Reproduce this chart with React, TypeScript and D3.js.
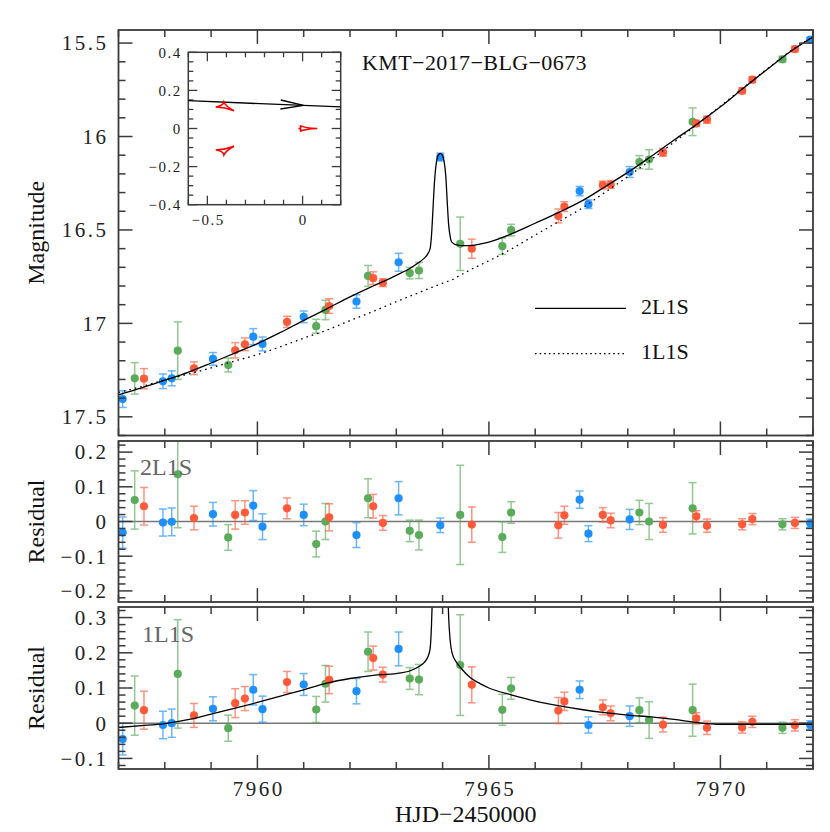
import React from 'react';
import * as d3 from 'd3';

// ---------- data ----------
const obsSite = ['B','G','R','B','B','G','R','B','G','R','R','B','B','R','B','G','G','R','B','G','R','R','B','G','G','B','G','R','G','G','R','R','B','B','R','R','B','G','G','R','G','R','R','R','R','G','R','B'];
const obsTime = [7957.09,7957.35,7957.55,7957.96,7958.15,7958.28,7958.63,7959.04,7959.37,7959.52,7959.73,7959.91,7960.11,7960.64,7961.0,7961.27,7961.47,7961.55,7962.14,7962.39,7962.5,7962.71,7963.05,7963.29,7963.49,7963.95,7964.38,7964.63,7965.29,7965.48,7966.5,7966.63,7966.96,7967.15,7967.46,7967.63,7968.04,7968.25,7968.46,7968.76,7969.40,7969.48,7969.71,7970.47,7970.69,7971.34,7971.61,7971.94];
const obsMag = [17.405,17.294,17.296,17.31,17.294,17.146,17.24,17.19,17.223,17.144,17.112,17.071,17.11,16.992,16.965,17.015,16.928,16.907,16.883,16.746,16.758,16.782,16.673,16.731,16.717,16.11,16.574,16.6,16.587,16.501,16.425,16.375,16.292,16.362,16.26,16.257,16.19,16.137,16.123,16.085,15.921,15.93,15.91,15.755,15.696,15.587,15.532,15.482];
const obsErr = [0.045,0.084,0.054,0.039,0.04,0.154,0.034,0.034,0.037,0.041,0.034,0.043,0.037,0.03,0.031,0.037,0.052,0.039,0.036,0.056,0.034,0.021,0.048,0.031,0.043,0.021,0.143,0.051,0.044,0.031,0.037,0.026,0.025,0.023,0.021,0.021,0.029,0.035,0.052,0.021,0.074,0.016,0.019,0.016,0.016,0.016,0.016,0.012];
const obsRes2L1S = [-0.032,0.062,0.044,-0.003,-0.001,0.136,0.01,0.021,-0.046,0.019,0.026,0.046,-0.015,0.038,0.019,-0.065,0.0,0.012,-0.039,0.067,0.044,-0.004,0.067,-0.027,-0.039,-0.011,0.019,-0.009,-0.045,0.026,-0.011,0.018,0.063,-0.035,0.019,0.003,0.006,0.026,0.0,-0.01,0.038,0.015,-0.012,-0.008,0.007,-0.008,-0.004,-0.005];
const obsRes1L1S = [-0.045,0.05,0.037,-0.005,0.0,0.14,0.022,0.041,-0.014,0.057,0.07,0.095,0.04,0.117,0.11,0.039,0.112,0.123,0.091,0.203,0.185,0.138,0.211,0.127,0.124,0.68,0.165,0.109,0.038,0.099,0.036,0.062,0.095,-0.005,0.045,0.028,0.02,0.037,0.009,-0.004,0.037,0.014,-0.013,-0.012,0.004,-0.013,-0.006,-0.005];

const modelTime = [7957.0,7957.5,7958.0,7958.5,7959.0,7959.5,7960.0,7960.5,7961.0,7961.5,7962.0,7962.5,7963.0,7963.3,7963.5,7963.6,7963.68,7963.73,7963.76,7963.79,7963.82,7963.85,7963.88,7963.92,7963.95,7963.99,7964.03,7964.07,7964.10,7964.13,7964.16,7964.20,7964.3,7964.4,7964.6,7964.8,7965.0,7965.5,7966.0,7966.5,7967.0,7967.5,7968.0,7968.5,7969.0,7969.5,7970.0,7970.5,7971.0,7971.5,7972.0];
const model2L1S = [17.382,17.345,17.304,17.262,17.212,17.160,17.108,17.048,16.984,16.922,16.858,16.800,16.743,16.705,16.672,16.652,16.628,16.600,16.530,16.400,16.260,16.170,16.118,16.095,16.090,16.098,16.130,16.215,16.350,16.470,16.530,16.565,16.580,16.584,16.584,16.576,16.565,16.520,16.464,16.407,16.346,16.270,16.192,16.107,16.019,15.933,15.841,15.741,15.643,15.548,15.468];
const model1L1S = [17.370,17.338,17.303,17.272,17.238,17.202,17.167,17.125,17.079,17.036,16.985,16.936,16.884,16.854,16.834,16.824,16.816,16.811,16.808,16.805,16.802,16.800,16.797,16.793,16.790,16.786,16.783,16.779,16.776,16.773,16.770,16.767,16.753,16.740,16.713,16.689,16.665,16.600,16.527,16.457,16.385,16.300,16.215,16.125,16.030,15.935,15.838,15.738,15.640,15.545,15.465];

const magTicks = [15.5, 16, 16.5, 17, 17.5];
const magTickLabels = ['15.5', '16', '16.5', '17', '17.5'];
const res2Ticks = [0.2, 0.1, 0, -0.1, -0.2];
const res2TickLabels = ['0.2', '0.1', '0', '\u22120.1', '\u22120.2'];
const res1Ticks = [0.3, 0.2, 0.1, 0, -0.1];
const res1TickLabels = ['0.3', '0.2', '0.1', '0', '\u22120.1'];
const timeTicks = [7960, 7965, 7970];
const timeTickLabels = ['7960', '7965', '7970'];

const insetXTicks = [-0.5, 0];
const insetXTickLabels = ['\u22120.5', '0'];
const insetYTicks = [0.4, 0.2, 0, -0.2, -0.4];
const insetYTickLabels = ['0.4', '0.2', '0', '\u22120.2', '\u22120.4'];
const trajX = [-0.6, 0.2];
const trajY = [0.146, 0.113];
const arrowTipX = 0.005;
const causticUpper = [[-0.456, 0.113], [-0.413, 0.139], [-0.36, 0.093]];
const causticLower = [[-0.456, -0.113], [-0.413, -0.139], [-0.36, -0.093]];
const causticCentral = [[-0.021, 0], [-0.014, 0.015], [0.077, 0], [-0.014, -0.015]];

const siteColor: Record<string, string> = { B: '#1e8fff', R: '#ff5a3a', G: '#5aab5a' };

// ---------- layout ----------
const W = 830, H = 832;
const XL = 118.5, XR = 813;
const P1 = { top: 30, bottom: 435.5 };
const P2 = { top: 441, bottom: 602 };
const P3 = { top: 607, bottom: 769 };
const FRAME = '#3a3a3a';
const SERIF = '"Liberation Serif", "Times New Roman", serif';

const x = d3.scaleLinear().domain([7957, 7972]).range([XL, XR]);
const yMag = d3.scaleLinear().domain([15.43, 17.6]).range([P1.top, P1.bottom]);
const yR2 = d3.scaleLinear().domain([-0.232, 0.232]).range([P2.bottom, P2.top]);
const yR1 = d3.scaleLinear().domain([-0.13, 0.33]).range([P3.bottom, P3.top]);

const ix = d3.scaleLinear().domain([-0.6, 0.2]).range([188.3, 340.7]);
const iy = d3.scaleLinear().domain([-0.4, 0.4]).range([204.7, 52.3]);

const near = (a: number, b: number) => Math.abs(a - b) < 1e-6;

function Frame({ top, bottom, yScale, minorStep, majorStep, yMin, yMax }: any) {
  const els: any[] = [];
  for (let t = 7957; t <= 7972; t += 1) {
    const major = t % 5 === 0;
    const L = major ? 14 : 7;
    const xx = x(t);
    els.push(<line key={'xb' + t} x1={xx} x2={xx} y1={bottom} y2={bottom - L} />);
    els.push(<line key={'xt' + t} x1={xx} x2={xx} y1={top} y2={top + L} />);
  }
  const n = Math.round((yMax - yMin) / minorStep);
  for (let i = 0; i <= n; i++) {
    const v = yMin + i * minorStep;
    const r = v / majorStep;
    const major = Math.abs(r - Math.round(r)) < 1e-6;
    const L = major ? 14 : 7;
    const yy = yScale(v);
    if (yy < top - 0.5 || yy > bottom + 0.5) continue;
    els.push(<line key={'yl' + i} x1={XL} x2={XL + L} y1={yy} y2={yy} />);
    els.push(<line key={'yr' + i} x1={XR} x2={XR - L} y1={yy} y2={yy} />);
  }
  return (
    <g stroke={FRAME} strokeWidth={1.5} fill="none">
      {els}
      <rect x={XL} y={top} width={XR - XL} height={bottom - top} strokeWidth={1.8} />
    </g>
  );
}

function Points({ yScale, values, clipId, inverted }: any) {
  const s = inverted ? 1 : -1;
  return (
    <g clipPath={`url(#${clipId})`}>
      {obsTime.map((t, i) => {
        const c = siteColor[obsSite[i]];
        const xx = x(t);
        const y0 = yScale(values[i]);
        const yTop = yScale(values[i] + s * -obsErr[i]);
        const yBot = yScale(values[i] - s * -obsErr[i]);
        return (
          <g key={i}>
            <g stroke={c} strokeWidth={1.5} opacity={0.65}>
              <line x1={xx} x2={xx} y1={yTop} y2={yBot} />
              <line x1={xx - 4} x2={xx + 4} y1={yTop} y2={yTop} />
              <line x1={xx - 4} x2={xx + 4} y1={yBot} y2={yBot} />
            </g>
            <circle cx={xx} cy={y0} r={4.1} fill={c} />
          </g>
        );
      })}
    </g>
  );
}

function causticPath(cusps: number[][]) {
  const cx = d3.mean(cusps, (p) => p[0]) as number;
  const cy = d3.mean(cusps, (p) => p[1]) as number;
  const p = d3.path();
  cusps.forEach((a, i) => {
    const b = cusps[(i + 1) % cusps.length];
    const mx = (a[0] + b[0]) / 2, my = (a[1] + b[1]) / 2;
    const qx = mx + (cx - mx) * 0.7, qy = my + (cy - my) * 0.7;
    if (i === 0) p.moveTo(ix(a[0]), iy(a[1]));
    p.quadraticCurveTo(ix(qx), iy(qy), ix(b[0]), iy(b[1]));
  });
  p.closePath();
  return p.toString();
}

function Inset() {
  const els: any[] = [];
  const top = iy(0.4), bot = iy(-0.4), lft = ix(-0.6), rgt = ix(0.2);
  for (let i = 0; i <= 8; i++) {
    const v = -0.6 + i * 0.1;
    const major = near(v, -0.5) || near(v, 0);
    const L = major ? 9 : 5;
    const xx = ix(v);
    els.push(<line key={'ixb' + i} x1={xx} x2={xx} y1={bot} y2={bot - L} />);
    els.push(<line key={'ixt' + i} x1={xx} x2={xx} y1={top} y2={top + L} />);
  }
  for (let i = 0; i <= 16; i++) {
    const v = -0.4 + i * 0.05;
    const r = v / 0.2;
    const major = Math.abs(r - Math.round(r)) < 1e-6;
    const L = major ? 9 : 5;
    const yy = iy(v);
    els.push(<line key={'iyl' + i} x1={lft} x2={lft + L} y1={yy} y2={yy} />);
    els.push(<line key={'iyr' + i} x1={rgt} x2={rgt - L} y1={yy} y2={yy} />);
  }
  const slope = (trajY[1] - trajY[0]) / (trajX[1] - trajX[0]);
  const tipY = trajY[0] + slope * (arrowTipX - trajX[0]);
  const tx = ix(arrowTipX), ty = iy(tipY);
  const ang = Math.atan2(iy(trajY[1]) - iy(trajY[0]), ix(trajX[1]) - ix(trajX[0]));
  const al = 23, aw = 4.5;
  const bx = tx - al * Math.cos(ang), by = ty - al * Math.sin(ang);
  const px = -Math.sin(ang) * aw, py = Math.cos(ang) * aw;
  return (
    <g>
      <rect x={lft} y={top} width={rgt - lft} height={bot - top} fill="white" stroke={FRAME} strokeWidth={1.5} />
      <g stroke={FRAME} strokeWidth={1.3}>{els}</g>
      <line x1={ix(trajX[0])} y1={iy(trajY[0])} x2={ix(trajX[1])} y2={iy(trajY[1])} stroke="#000" strokeWidth={1.3} />
      <path d={`M${bx + px},${by + py}L${tx},${ty}L${bx - px},${by - py}`} fill="none" stroke="#000" strokeWidth={1.3} />
      {[causticUpper, causticLower, causticCentral].map((c, i) => (
        <path key={i} d={causticPath(c)} fill="none" stroke="#ff0000" strokeWidth={1.5} strokeLinejoin="miter" />
      ))}
      <g fontFamily={SERIF} fontSize={15} fill="#222" letterSpacing={1.5}>
        {insetYTicks.map((v, i) => (
          <text key={i} x={lft - 8 + 1.5} y={iy(v)} dy="0.35em" textAnchor="end">{insetYTickLabels[i]}</text>
        ))}
        {insetXTicks.map((v, i) => (
          <text key={i} x={ix(v) + 0.75} y={225} textAnchor="middle">{insetXTickLabels[i]}</text>
        ))}
      </g>
    </g>
  );
}

export default function App() {
  const line2 = d3.line<number>().x((_, i) => x(modelTime[i])).y((v) => yMag(v)).curve(d3.curveMonotoneX);
  const resCurve = modelTime.map((_, i) => model1L1S[i] - model2L1S[i]);
  const lineRes = d3.line<number>().x((_, i) => x(modelTime[i])).y((v) => yR1(v)).curve(d3.curveMonotoneX);

  const tickText = { fontFamily: SERIF, fontSize: 21, fill: '#222', letterSpacing: 2.5 } as any;

  return (
    <svg width={W} height={H} style={{ position: 'absolute', left: 0, top: 0, background: 'white' }}>
      <defs>
        <clipPath id="c1"><rect x={XL} y={P1.top} width={XR - XL} height={P1.bottom - P1.top} /></clipPath>
        <clipPath id="c2"><rect x={XL} y={P2.top} width={XR - XL} height={P2.bottom - P2.top} /></clipPath>
        <clipPath id="c3"><rect x={XL} y={P3.top} width={XR - XL} height={P3.bottom - P3.top} /></clipPath>
      </defs>
      <rect x={0} y={0} width={W} height={H} fill="white" />

      {/* Panel 1 */}
      <Points yScale={yMag} values={obsMag} clipId="c1" inverted={true} />
      <g clipPath="url(#c1)" fill="none" stroke="#000" strokeWidth={1.3}>
        <path d={line2(model1L1S) || ''} strokeDasharray="1.6,4" />
        <path d={line2(model2L1S) || ''} />
      </g>
      <Frame top={P1.top} bottom={P1.bottom} yScale={yMag} minorStep={0.1} majorStep={0.5} yMin={15.4} yMax={17.6} />
      <Inset />
      <text x={362} y={70} fontFamily={SERIF} fontSize={22} letterSpacing={0.4} fill="#111">KMT{'\u2212'}2017{'\u2212'}BLG{'\u2212'}0673</text>
      <line x1={535} x2={626} y1={308.3} y2={308.3} stroke="#000" strokeWidth={1.3} />
      <line x1={535} x2={626} y1={353.7} y2={353.7} stroke="#000" strokeWidth={1.3} strokeDasharray="1.6,3" />
      <text x={641} y={313.5} fontFamily={SERIF} fontSize={22} fill="#111">2L1S</text>
      <text x={641} y={358.5} fontFamily={SERIF} fontSize={22} fill="#111">1L1S</text>
      {magTicks.map((v, i) => (
        <text key={i} x={106 + 2.5} y={yMag(v)} dy="0.35em" textAnchor="end" {...tickText}>{magTickLabels[i]}</text>
      ))}
      <text transform={`translate(44,${(P1.top + P1.bottom) / 2}) rotate(-90)`} textAnchor="middle" fontFamily={SERIF} fontSize={24} fill="#111">Magnitude</text>

      {/* Panel 2 */}
      <line x1={XL} x2={XR} y1={yR2(0)} y2={yR2(0)} stroke="#777" strokeWidth={1.5} />
      <Points yScale={yR2} values={obsRes2L1S} clipId="c2" />
      <Frame top={P2.top} bottom={P2.bottom} yScale={yR2} minorStep={0.02} majorStep={0.1} yMin={-0.24} yMax={0.24} />
      <text x={140} y={475} fontFamily={SERIF} fontSize={24} fill="#666">2L1S</text>
      {res2Ticks.map((v, i) => (
        <text key={i} x={106 + 2.5} y={yR2(v)} dy="0.35em" textAnchor="end" {...tickText}>{res2TickLabels[i]}</text>
      ))}
      <text transform={`translate(44,${(P2.top + P2.bottom) / 2}) rotate(-90)`} textAnchor="middle" fontFamily={SERIF} fontSize={24} fill="#111">Residual</text>

      {/* Panel 3 */}
      <line x1={XL} x2={XR} y1={yR1(0)} y2={yR1(0)} stroke="#777" strokeWidth={1.5} />
      <Points yScale={yR1} values={obsRes1L1S} clipId="c3" />
      <g clipPath="url(#c3)">
        <path d={lineRes(resCurve) || ''} fill="none" stroke="#000" strokeWidth={1.3} />
      </g>
      <Frame top={P3.top} bottom={P3.bottom} yScale={yR1} minorStep={0.02} majorStep={0.1} yMin={-0.14} yMax={0.34} />
      <text x={142} y={641.7} fontFamily={SERIF} fontSize={24} fill="#666">1L1S</text>
      {res1Ticks.map((v, i) => (
        <text key={i} x={106 + 2.5} y={yR1(v)} dy="0.35em" textAnchor="end" {...tickText}>{res1TickLabels[i]}</text>
      ))}
      <text transform={`translate(44,${(P3.top + P3.bottom) / 2}) rotate(-90)`} textAnchor="middle" fontFamily={SERIF} fontSize={24} fill="#111">Residual</text>

      {/* x axis */}
      {timeTicks.map((v, i) => (
        <text key={i} x={x(v) + 1.25} y={796} textAnchor="middle" {...tickText}>{timeTickLabels[i]}</text>
      ))}
      <text x={(XL + XR) / 2} y={822} textAnchor="middle" fontFamily={SERIF} fontSize={24} fill="#111">HJD{'\u2212'}2450000</text>
    </svg>
  );
}
